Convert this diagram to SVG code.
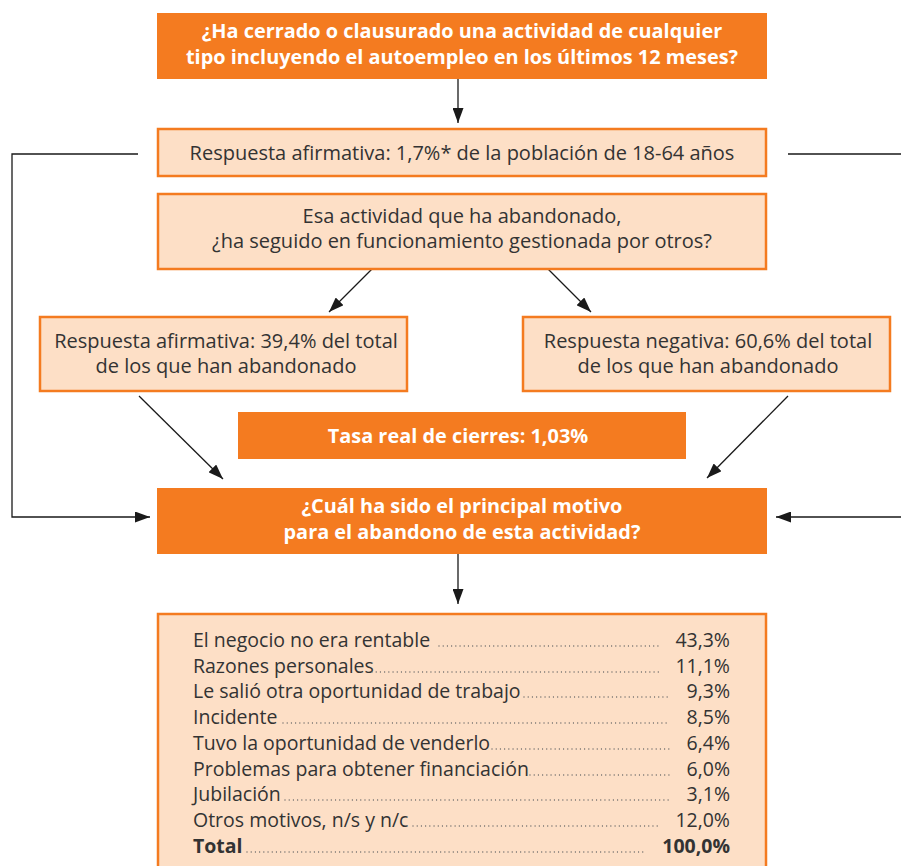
<svg xmlns="http://www.w3.org/2000/svg" width="901" height="866" viewBox="0 0 901 866">
<defs>
<marker id="ah" markerUnits="userSpaceOnUse" markerWidth="16" markerHeight="11" refX="15" refY="5.5" orient="auto">
<path d="M0,0 L15,5.5 L0,11 z" fill="#1a1a1a"/>
</marker>
</defs>
<style>
.dark{fill:#F47B20;}
.light{fill:#FDDFC6;stroke:#F47B20;stroke-width:2.5;}
.tb{font-family:"Open Sans","Noto Sans",sans-serif;font-weight:bold;font-size:19.9px;fill:#ffffff;text-anchor:middle;}
.t{font-family:"Open Sans","Noto Sans",sans-serif;font-size:20px;fill:#333333;text-anchor:middle;}
.l{font-family:"Open Sans","Noto Sans",sans-serif;font-size:19.5px;fill:#333333;}
.r{font-family:"Open Sans","Noto Sans",sans-serif;font-size:19.5px;fill:#333333;text-anchor:end;}
.b{font-weight:bold;}
.c{fill:none;stroke:#1a1a1a;stroke-width:1.3;}
.d{stroke:#666;stroke-width:1.3;stroke-linecap:round;stroke-dasharray:0.01 4.2;}
</style>
<rect width="901" height="866" fill="#ffffff"/>
<g id="connectors">
<line class="c" x1="458" y1="79" x2="458" y2="123" marker-end="url(#ah)"/>
<polyline class="c" points="138,154 12,154 12,517 150,517" marker-end="url(#ah)"/>
<polyline class="c" points="788,154 903,154 903,517 776,517" marker-end="url(#ah)"/>
<line class="c" x1="372" y1="269" x2="329" y2="312" marker-end="url(#ah)"/>
<line class="c" x1="548" y1="269" x2="591" y2="312" marker-end="url(#ah)"/>
<line class="c" x1="139" y1="396" x2="223" y2="479" marker-end="url(#ah)"/>
<line class="c" x1="788" y1="396" x2="707" y2="478" marker-end="url(#ah)"/>
<line class="c" x1="458" y1="554" x2="458" y2="604" marker-end="url(#ah)"/>
</g>
<g id="q1">
<rect class="dark" x="157" y="13" width="610" height="66"/>
<text class="tb"><tspan x="462" y="38">¿Ha cerrado o clausurado una actividad de cualquier</tspan><tspan x="462" y="63.5">tipo incluyendo el autoempleo en los últimos 12 meses?</tspan></text>
</g>
<g id="resp1">
<rect class="light" x="158" y="129" width="608" height="47"/>
<text class="t" x="462" y="160">Respuesta afirmativa: 1,7%* de la población de 18-64 años</text>
</g>
<g id="q2">
<rect class="light" x="158" y="194" width="608" height="75"/>
<text class="t"><tspan x="462" y="223">Esa actividad que ha abandonado,</tspan><tspan x="462" y="248">¿ha seguido en funcionamiento gestionada por otros?</tspan></text>
</g>
<g id="si">
<rect class="light" x="40" y="317" width="367" height="74"/>
<text class="t"><tspan x="226" y="348">Respuesta afirmativa: 39,4% del total</tspan><tspan x="226" y="373">de los que han abandonado</tspan></text>
</g>
<g id="no">
<rect class="light" x="523" y="317" width="367" height="74"/>
<text class="t"><tspan x="708" y="348">Respuesta negativa: 60,6% del total</tspan><tspan x="708" y="373">de los que han abandonado</tspan></text>
</g>
<g id="tasa">
<rect class="dark" x="238" y="412" width="448" height="47"/>
<text class="tb" x="458" y="443">Tasa real de cierres: 1,03%</text>
</g>
<g id="q3">
<rect class="dark" x="157" y="488" width="610" height="66"/>
<text class="tb"><tspan x="462" y="513">¿Cuál ha sido el principal motivo</tspan><tspan x="462" y="538.5">para el abandono de esta actividad?</tspan></text>
</g>
<g id="motivos">
<rect class="light" x="158" y="614" width="608" height="260"/>
<text class="l" x="193" y="647">El negocio no era rentable</text>
<line class="d" x1="439" y1="646" x2="661" y2="646"/>
<text class="r" x="730" y="647">43,3%</text>
<text class="l" x="193" y="673">Razones personales</text>
<line class="d" x1="372" y1="672" x2="661" y2="672"/>
<text class="r" x="730" y="673">11,1%</text>
<text class="l" x="193" y="698">Le salió otra oportunidad de trabajo</text>
<line class="d" x1="524" y1="697" x2="669" y2="697"/>
<text class="r" x="730" y="698">9,3%</text>
<text class="l" x="193" y="724">Incidente</text>
<line class="d" x1="283" y1="723" x2="669" y2="723"/>
<text class="r" x="730" y="724">8,5%</text>
<text class="l" x="193" y="750">Tuvo la oportunidad de venderlo</text>
<line class="d" x1="492" y1="749" x2="669" y2="749"/>
<text class="r" x="730" y="750">6,4%</text>
<text class="l" x="193" y="776">Problemas para obtener financiación</text>
<line class="d" x1="530" y1="775" x2="669" y2="775"/>
<text class="r" x="730" y="776">6,0%</text>
<text class="l" x="193" y="801">Jubilación</text>
<line class="d" x1="285" y1="800" x2="669" y2="800"/>
<text class="r" x="730" y="801">3,1%</text>
<text class="l" x="193" y="827">Otros motivos, n/s y n/c</text>
<line class="d" x1="413" y1="826" x2="661" y2="826"/>
<text class="r" x="730" y="827">12,0%</text>
<text class="l b" x="193" y="853">Total</text>
<line class="d" x1="247" y1="852" x2="646" y2="852"/>
<text class="r b" x="730" y="853">100,0%</text>
</g>
</svg>
